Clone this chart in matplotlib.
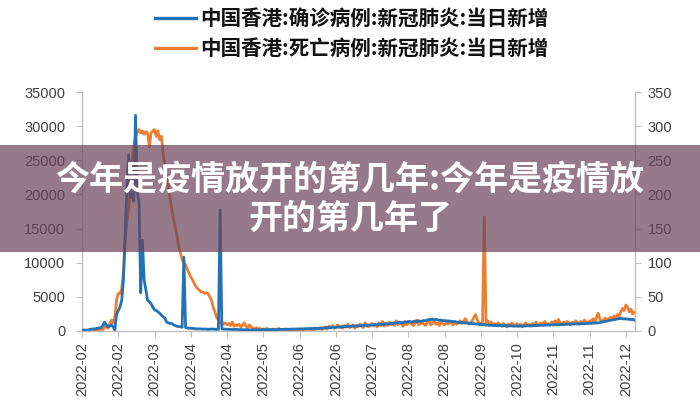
import matplotlib
matplotlib.use("Agg")
import matplotlib.pyplot as plt
import matplotlib.dates as mdates
from matplotlib.lines import Line2D
from matplotlib.patches import Rectangle
import pandas as pd

start_date = "2022-02-01"
tick_step_days = 21
n_ticks = 16

legend_labels = ["中国香港:确诊病例:新冠肺炎:当日新增",
                 "中国香港:死亡病例:新冠肺炎:当日新增"]
banner_text = "今年是疫情放开的第几年:今年是疫情放\n开的第几年了"

left_ticks = [0, 5000, 10000, 15000, 20000, 25000, 30000, 35000]
right_ticks = [0, 50, 100, 150, 200, 250, 300, 350]

# daily new confirmed cases (left axis), from 2022-02-01
cases = [
    100, 120, 150, 130, 200, 250, 300, 280, 350, 400,
    450, 500, 800, 1300, 900, 600, 700, 900, 600, 150,
    2400, 3000, 3500, 4500, 7500, 14300, 21000, 25800, 19500, 20000,
    19000, 31600, 20200, 19000, 5600, 13300, 7500, 6000, 4500, 4300,
    4000, 3500, 3100, 3000, 2800, 2600, 2300, 2100, 1900, 1300,
    1200, 1100, 1100, 900, 800, 700, 650, 600, 550, 10800,
    500, 450, 400, 420, 380, 350, 330, 300, 320, 290,
    280, 300, 270, 260, 250, 300, 280, 260, 240, 250,
    17700, 300, 280, 260, 250, 240, 260, 230, 220, 240,
    220, 200, 210, 190, 180, 200, 170, 160, 150, 180,
    170, 160, 180, 150, 200, 190, 210, 180, 200, 220,
    210, 230, 200, 220, 240, 250, 230, 260, 240, 270,
    250, 280, 260, 300, 280, 310, 290, 320, 300, 340,
    320, 350, 330, 370, 350, 380, 360, 400, 380, 420,
    450, 430, 480, 500, 470, 520, 550, 520, 580, 600,
    570, 620, 650, 610, 680, 700, 660, 720, 750, 700,
    780, 800, 760, 830, 850, 800, 870, 900, 850, 920,
    950, 900, 980, 1000, 950, 1050, 1100, 1000, 1080, 1150,
    1100, 1200, 1150, 1250, 1300, 1200, 1280, 1350, 1300, 1400,
    1350, 1300, 1400, 1450, 1350, 1500, 1400, 1450, 1550, 1500,
    1600, 1700, 1650, 1750, 1600, 1700, 1650, 1550, 1600, 1500,
    1550, 1450, 1500, 1400, 1450, 1350, 1400, 1300, 1250, 1300,
    1200, 1250, 1150, 1200, 1100, 1150, 1050, 1100, 1000, 1050,
    950, 1000, 900, 950, 850, 900, 800, 850, 820, 780,
    800, 760, 820, 780, 740, 800, 760, 720, 780, 740,
    700, 760, 720, 680, 740, 700, 760, 720, 780, 740,
    800, 760, 820, 780, 840, 800, 860, 820, 880, 840,
    900, 860, 920, 880, 940, 900, 960, 920, 980, 940,
    1000, 960, 1020, 980, 1040, 1000, 1060, 1020, 1080, 1040,
    1100, 1060, 1120, 1080, 1150, 1100, 1180, 1140, 1200, 1160,
    1250, 1300, 1350, 1400, 1450, 1500, 1550, 1600, 1650, 1700,
    1750, 1800, 1850, 1800, 1750, 1800, 1700, 1750, 1650, 1700, 1600,
]

# daily new deaths (right axis), from 2022-02-01
deaths = [
    0, 0, 1, 0, 0, 1, 0, 1, 2, 0,
    1, 3, 2, 5, 8, 4, 10, 16, 12, 20,
    45, 55, 55, 62, 85, 133, 160, 177, 210, 250,
    270, 285, 291, 295, 290, 293, 288, 292, 290, 270,
    290, 293, 295, 285, 293, 280, 285, 260, 240, 225,
    211, 195, 177, 165, 152, 140, 123, 115, 104, 100,
    97, 90, 85, 79, 75, 70, 65, 62, 60, 57,
    57, 55, 56, 55, 50, 45, 35, 28, 20, 16,
    12, 14, 10, 12, 9, 11, 8, 13, 7, 9,
    8, 10, 6, 8, 12, 7, 5, 9, 6, 4,
    3, 5, 2, 4, 1, 3, 2, 4, 2, 1,
    2, 3, 1, 2, 4, 1, 2, 0, 3, 1,
    2, 1, 3, 0, 2, 1, 2, 3, 1, 2,
    3, 2, 4, 1, 3, 2, 4, 3, 5, 2,
    4, 6, 3, 7, 5, 8, 4, 6, 9, 5,
    7, 4, 8, 6, 10, 5, 7, 9, 4, 8,
    6, 10, 7, 5, 12, 8, 6, 9, 11, 7,
    9, 6, 12, 8, 14, 7, 10, 8, 13, 9,
    11, 8, 15, 9, 12, 10, 7, 13, 9, 11,
    14, 10, 8, 12, 16, 9, 11, 13, 10, 8,
    12, 15, 9, 11, 14, 10, 12, 8, 13, 11,
    9, 12, 10, 14, 11, 9, 13, 10, 12, 15,
    11, 14, 18, 13, 10, 12, 15, 20, 24, 16,
    12, 10, 14, 167, 12, 15, 10, 13, 9, 11,
    8, 12, 10, 7, 11, 9, 6, 10, 8, 12,
    9, 7, 11, 8, 10, 6, 9, 12, 8, 10,
    7, 11, 9, 13, 8, 10, 12, 9, 14, 10,
    11, 9, 13, 10, 15, 12, 17, 11, 9, 13,
    10, 14, 12, 9, 13, 11, 15, 12, 10, 14,
    12, 16, 13, 11, 15, 14, 18, 13, 20, 26,
    17, 14, 16, 19, 15, 18, 20, 17, 22, 19,
    24, 21, 28, 33, 30, 38, 35, 28, 32, 25, 27,
]

BLUE = "#2272b5"
ORANGE = "#ed7d31"
SPINE = "#bfbfbf"
TXT = "#404040"

dates = pd.date_range(start_date, periods=len(cases), freq="D")
tick_dates = pd.date_range(start_date, periods=n_ticks, freq=f"{tick_step_days}D")

fig = plt.figure(figsize=(7, 4), dpi=100)
fig.patch.set_facecolor("white")
ax = fig.add_axes([82 / 700, 1 - 331 / 400, (635 - 82) / 700, (331 - 92) / 400])
ax2 = ax.twinx()

ax.plot(dates, cases, color=BLUE, lw=2.0, zorder=3)
ax2.plot(dates, deaths, color=ORANGE, lw=2.0, zorder=2)

ax.set_xlim(dates[0], dates[0] + pd.Timedelta(days=320.3))
ax.set_ylim(0, 35000)
ax2.set_ylim(0, 350)
ax.set_yticks(left_ticks)
ax2.set_yticks(right_ticks)
ax.set_xticks(tick_dates)
ax.xaxis.set_major_formatter(mdates.DateFormatter("%Y-%m"))

for a in (ax, ax2):
    a.spines["top"].set_visible(False)
    for s in ("left", "right", "bottom"):
        a.spines[s].set_color(SPINE)
        a.spines[s].set_linewidth(1.0)
    a.tick_params(colors=TXT, length=4, width=0.8, labelsize=10.5)
    a.tick_params(axis="both", color=SPINE)
    for lbl in a.get_yticklabels() + a.get_xticklabels():
        lbl.set_fontfamily("Liberation Sans")

ax.spines["right"].set_visible(False)
ax2.spines["left"].set_visible(False)
ax2.spines["bottom"].set_visible(False)
ax.tick_params(axis="y", pad=8)
ax2.tick_params(axis="y", pad=5)
ax.tick_params(axis="x", pad=4)
for lbl in ax.get_xticklabels():
    lbl.set_rotation(90)
    lbl.set_ha("center")
    lbl.set_va("top")
    lbl.set_color(TXT)
ax.set_facecolor("none")
ax.set_zorder(ax2.get_zorder() + 1)

# legend (top)
cjk = ["Noto Sans CJK SC", "DejaVu Sans"]
leg_y = [1 - 18 / 400, 1 - 48 / 400]
for y, col, txt in zip(leg_y, [BLUE, ORANGE], legend_labels):
    fig.add_artist(Line2D([155 / 700, 196 / 700], [y, y], color=col, lw=2.4))
    fig.text(200 / 700, y, txt, family=cjk, fontsize=14.8, color="#111111",
             va="center", ha="left", fontweight="bold")

# banner overlay
fig.add_artist(Rectangle((0, 1 - 252 / 400), 1, (252 - 145) / 400,
                         transform=fig.transFigure, facecolor="#6b445a",
                         alpha=0.71, edgecolor="none", zorder=10))
fig.text(0.5, 1 - 199 / 400, banner_text, family=cjk, fontsize=24.5,
         fontweight="bold", color="white", ha="center", va="center",
         linespacing=1.15, zorder=11)

fig.savefig("out.png", dpi=100)
